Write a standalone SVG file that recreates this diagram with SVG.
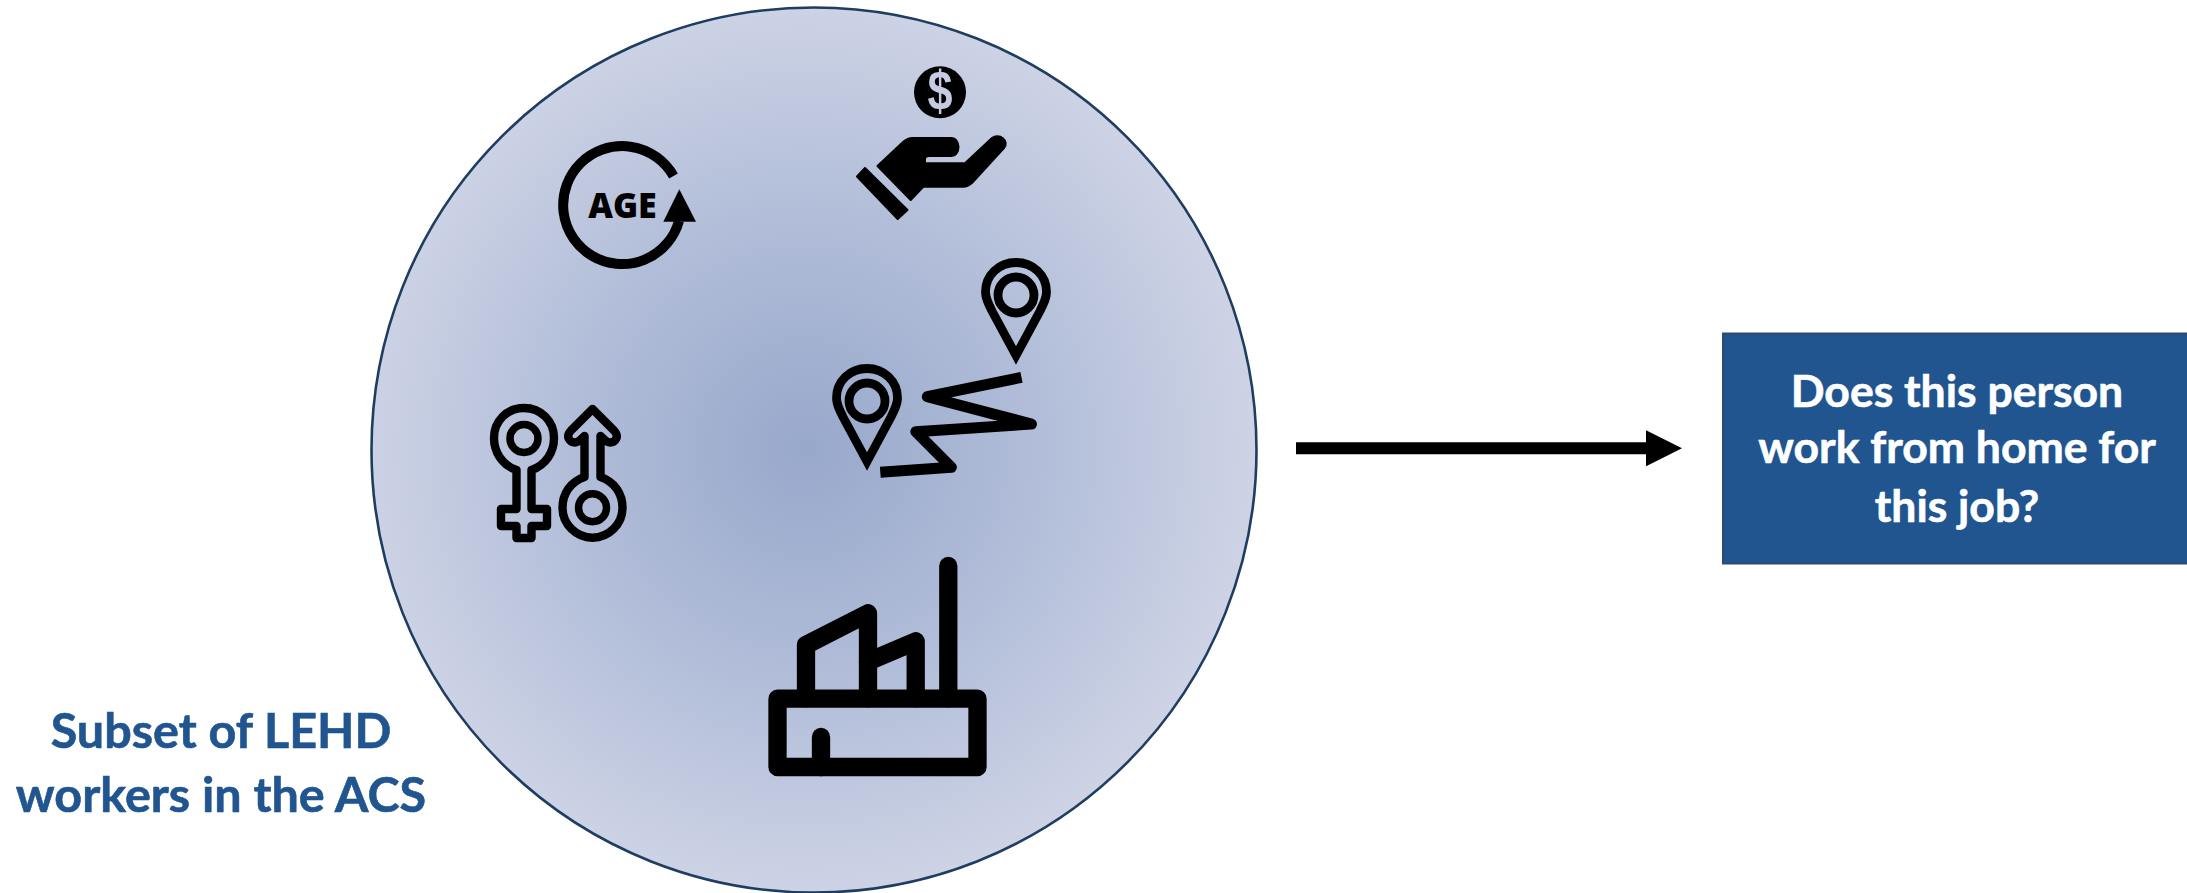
<svg xmlns="http://www.w3.org/2000/svg" width="2187" height="893" viewBox="0 0 2187 893">
<style>
.line{fill:none;stroke:#000;stroke-linejoin:round}
.fill{fill:#000}
.lbl{font-family:Lato,"Liberation Sans",sans-serif;font-weight:700;text-anchor:middle;stroke-width:0.6}
.pin{fill:none;stroke:#000;stroke-width:8.8;stroke-miterlimit:10}
</style>
<defs>
<radialGradient id="g" gradientUnits="userSpaceOnUse" cx="805" cy="448" r="445">
<stop offset="0" stop-color="#98a8cb"/>
<stop offset="0.5" stop-color="#b0bcd8"/>
<stop offset="1" stop-color="#cdd3e5"/>
</radialGradient>
<marker id="ah" markerUnits="userSpaceOnUse" markerWidth="36" markerHeight="36" refX="0" refY="18" orient="auto"><path d="M0,0 L36,18 L0,36 Z" fill="#000"/></marker>
<path id="pinShape" d="M1016,355.5 L992,311 C988,303 985.5,298 985.5,292 C985.5,275 999,262.5 1016,262.5 C1033,262.5 1046.5,275 1046.5,292 C1046.5,298 1044,303 1040,311 Z"/>
</defs>
<g id="population"><circle cx="814" cy="450" r="442.5" fill="url(#g)" stroke="#1f3d60" stroke-width="2.6"/></g>
<g id="age">
<path class="line" stroke-width="10" d="M673.5,176 A59,59 0 1 0 679,221"/>
<path class="fill" d="M679.3,189.3 L663.3,221.7 L696,221.7 Z"/>
<text x="622.5" y="217.7" font-family="'Open Sans',sans-serif" font-weight="800" font-size="35" text-anchor="middle" textLength="68.5" lengthAdjust="spacingAndGlyphs">AGE</text>
</g>
<g id="income">
<circle class="fill" cx="940" cy="92.3" r="26"/>
<text x="940" y="110" font-family="'Liberation Sans',sans-serif" font-weight="700" font-size="55" text-anchor="middle" textLength="25" lengthAdjust="spacingAndGlyphs" fill="#c5cbe0">$</text>
<path class="fill" stroke="#000" stroke-width="2" stroke-linejoin="round" d="M877.5,166 L903.3,141.7 Q908,138 912,138 L951,138 C961,138 961,156 951,156 L929,156 Q925,156 925,159.3 L925,163.3 L965,163.3 L991.7,138.3 C999,132 1010,141 1004,148 L973.3,181.7 Q968,186.7 963.3,186.7 L923.3,186.7 L910.7,200 Z"/>
<path class="fill" stroke="#000" stroke-width="2" stroke-linejoin="round" d="M865,168 L857,176.5 L897.7,219 L907.5,210 Z"/>
</g>
<g id="commute">
<use href="#pinShape" class="pin"/>
<circle class="pin" cx="1016" cy="295" r="18"/>
<use href="#pinShape" class="pin" transform="translate(-149,106)"/>
<circle class="pin" cx="867" cy="401" r="18"/>
<path class="line" stroke-width="11" d="M1021.5,377.3 L927.3,396.7 L1031.4,424 L915.8,431.7 L951.4,467.3 L880.3,472.3"/>
</g>
<g id="sex">
<path class="line" stroke-width="8.4" d="M516.5,470 C502,465 494,452 494,438 C494,421 507,408 524,408 C541,408 554,421 554,438 C554,452 546,465 531.5,470 L531.5,509 L547,509 L547,526 L531.5,526 L531.5,538 L516.5,538 L516.5,526 L501,526 L501,509 L516.5,509 Z"/>
<circle cx="524" cy="438.5" r="14" fill="none" stroke="#000" stroke-width="7.5"/>
<path class="line" stroke-width="8.4" d="M584.5,477 L584.5,436 C580,440.5 578,442.5 575,442.5 C570,442.5 565,437 571,430.5 L592.5,409 L614,430.5 C620,437 615,442.5 610,442.5 C607,442.5 605,440.5 600.5,436 L600.5,477 C615,482 622.5,494 622.5,507.7 C622.5,524 609,537.7 592.5,537.7 C576,537.7 562.5,524 562.5,507.7 C562.5,494 570,482 584.5,477 Z"/>
<circle cx="592.5" cy="507.7" r="14" fill="none" stroke="#000" stroke-width="7.5"/>
</g>
<g id="industry" class="line" stroke-width="18.3" stroke-linecap="round">
<rect x="777.5" y="698.7" width="200" height="68.3"/>
<path d="M948.3,566 L948.3,698"/>
<path d="M821,737 L821,767"/>
<path d="M806,698 L806,645 L868,613.3 L868,698"/>
<path d="M868,661.7 L915.7,641.3 L915.7,698"/>
</g>
<g id="outcome">
<rect x="1723" y="333.5" width="466" height="230" fill="#20558f" stroke="#2f4b6c" stroke-width="2"/>
<text class="lbl" x="1957" y="406.7" font-size="44.5" fill="#fff" stroke="#fff">Does this person</text>
<text class="lbl" x="1957" y="463.3" font-size="44.5" fill="#fff" stroke="#fff">work from home for</text>
<text class="lbl" x="1957" y="521.7" font-size="44.5" fill="#fff" stroke="#fff">this job?</text>
</g>
<g id="caption">
<text class="lbl" x="221" y="748.3" font-size="48.5" fill="#20558f" stroke="#20558f">Subset of LEHD</text>
<text class="lbl" x="221" y="812.3" font-size="48.5" fill="#20558f" stroke="#20558f">workers in the ACS</text>
</g>
<g id="connectors">
<line x1="1296" y1="448.3" x2="1646" y2="448.3" stroke="#000" stroke-width="12" marker-end="url(#ah)"/>
</g>
</svg>
